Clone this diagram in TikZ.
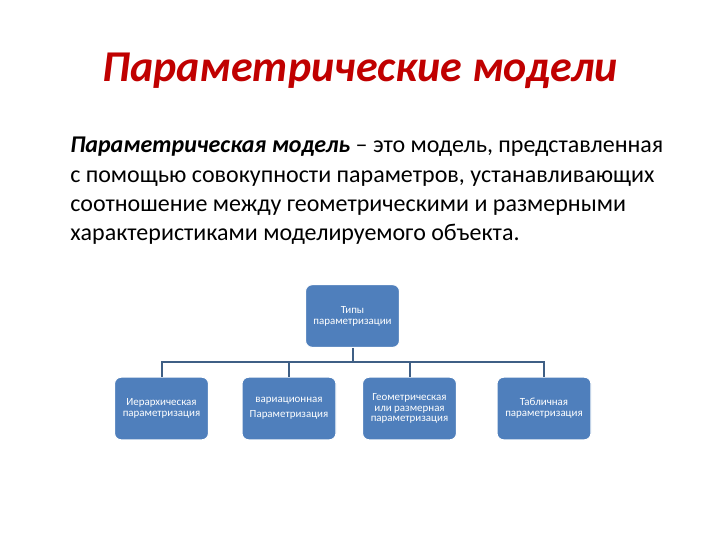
\documentclass[tikz,border=0pt]{standalone}
\usepackage{fontspec}
\setmainfont{Carlito}
\begin{document}
\begin{tikzpicture}[x=0.75pt,y=-0.75pt,
  blk/.style={draw=white, line width=0.8pt, fill=boxblue, rounded corners=5pt, minimum width=70.5pt, minimum height=47pt, align=center, text=white, font=\fontsize{8.2}{8.4}\selectfont, inner sep=1pt},
  conn/.style={draw=linec, line width=1.5pt}]
\definecolor{boxblue}{HTML}{4F7FBC}
\definecolor{linec}{HTML}{3F5F85}
\definecolor{titlered}{HTML}{C00000}
\useasboundingbox (0,0) rectangle (720,540);
\fill[white] (0,0) rectangle (720,540);
\node[font=\fontsize{33}{38}\selectfont\bfseries\itshape, text=titlered] (title) at (360,71) {Параметрические модели};
\node[anchor=north west, align=left, font=\fontsize{18}{22}\selectfont, inner sep=0pt] (body) at (70,137)
{\textbf{\textit{Параметрическая модель}} – это модель, представленная\\
с помощью совокупности параметров, устанавливающих\\
соотношение между геометрическими и размерными\\
характеристиками моделируемого объекта.};
\node[blk] (top) at (352.5,316) {Типы\\параметризации};
\node[blk] (b1) at (161.5,408.5) {Иерархическая\\параметризация};
\node[blk] (b2) at (289,408.5) {вариационная\\[3pt]Параметризация};
\node[blk, font=\fontsize{8.2}{7.6}\selectfont] (b3) at (409.5,408.5) {Геометрическая\\или размерная\\параметризация};
\node[blk] (b4) at (544,408.5) {Табличная\\параметризация};
\coordinate (j) at (352.5,362);
\draw[conn] (top.south) -- (j);
\draw[conn] (b1.north) |- (j) -| (b4.north);
\draw[conn] (b2.north) -- (b2.north |- j);
\draw[conn] (b3.north) -- (b3.north |- j);
\end{tikzpicture}
\end{document}
